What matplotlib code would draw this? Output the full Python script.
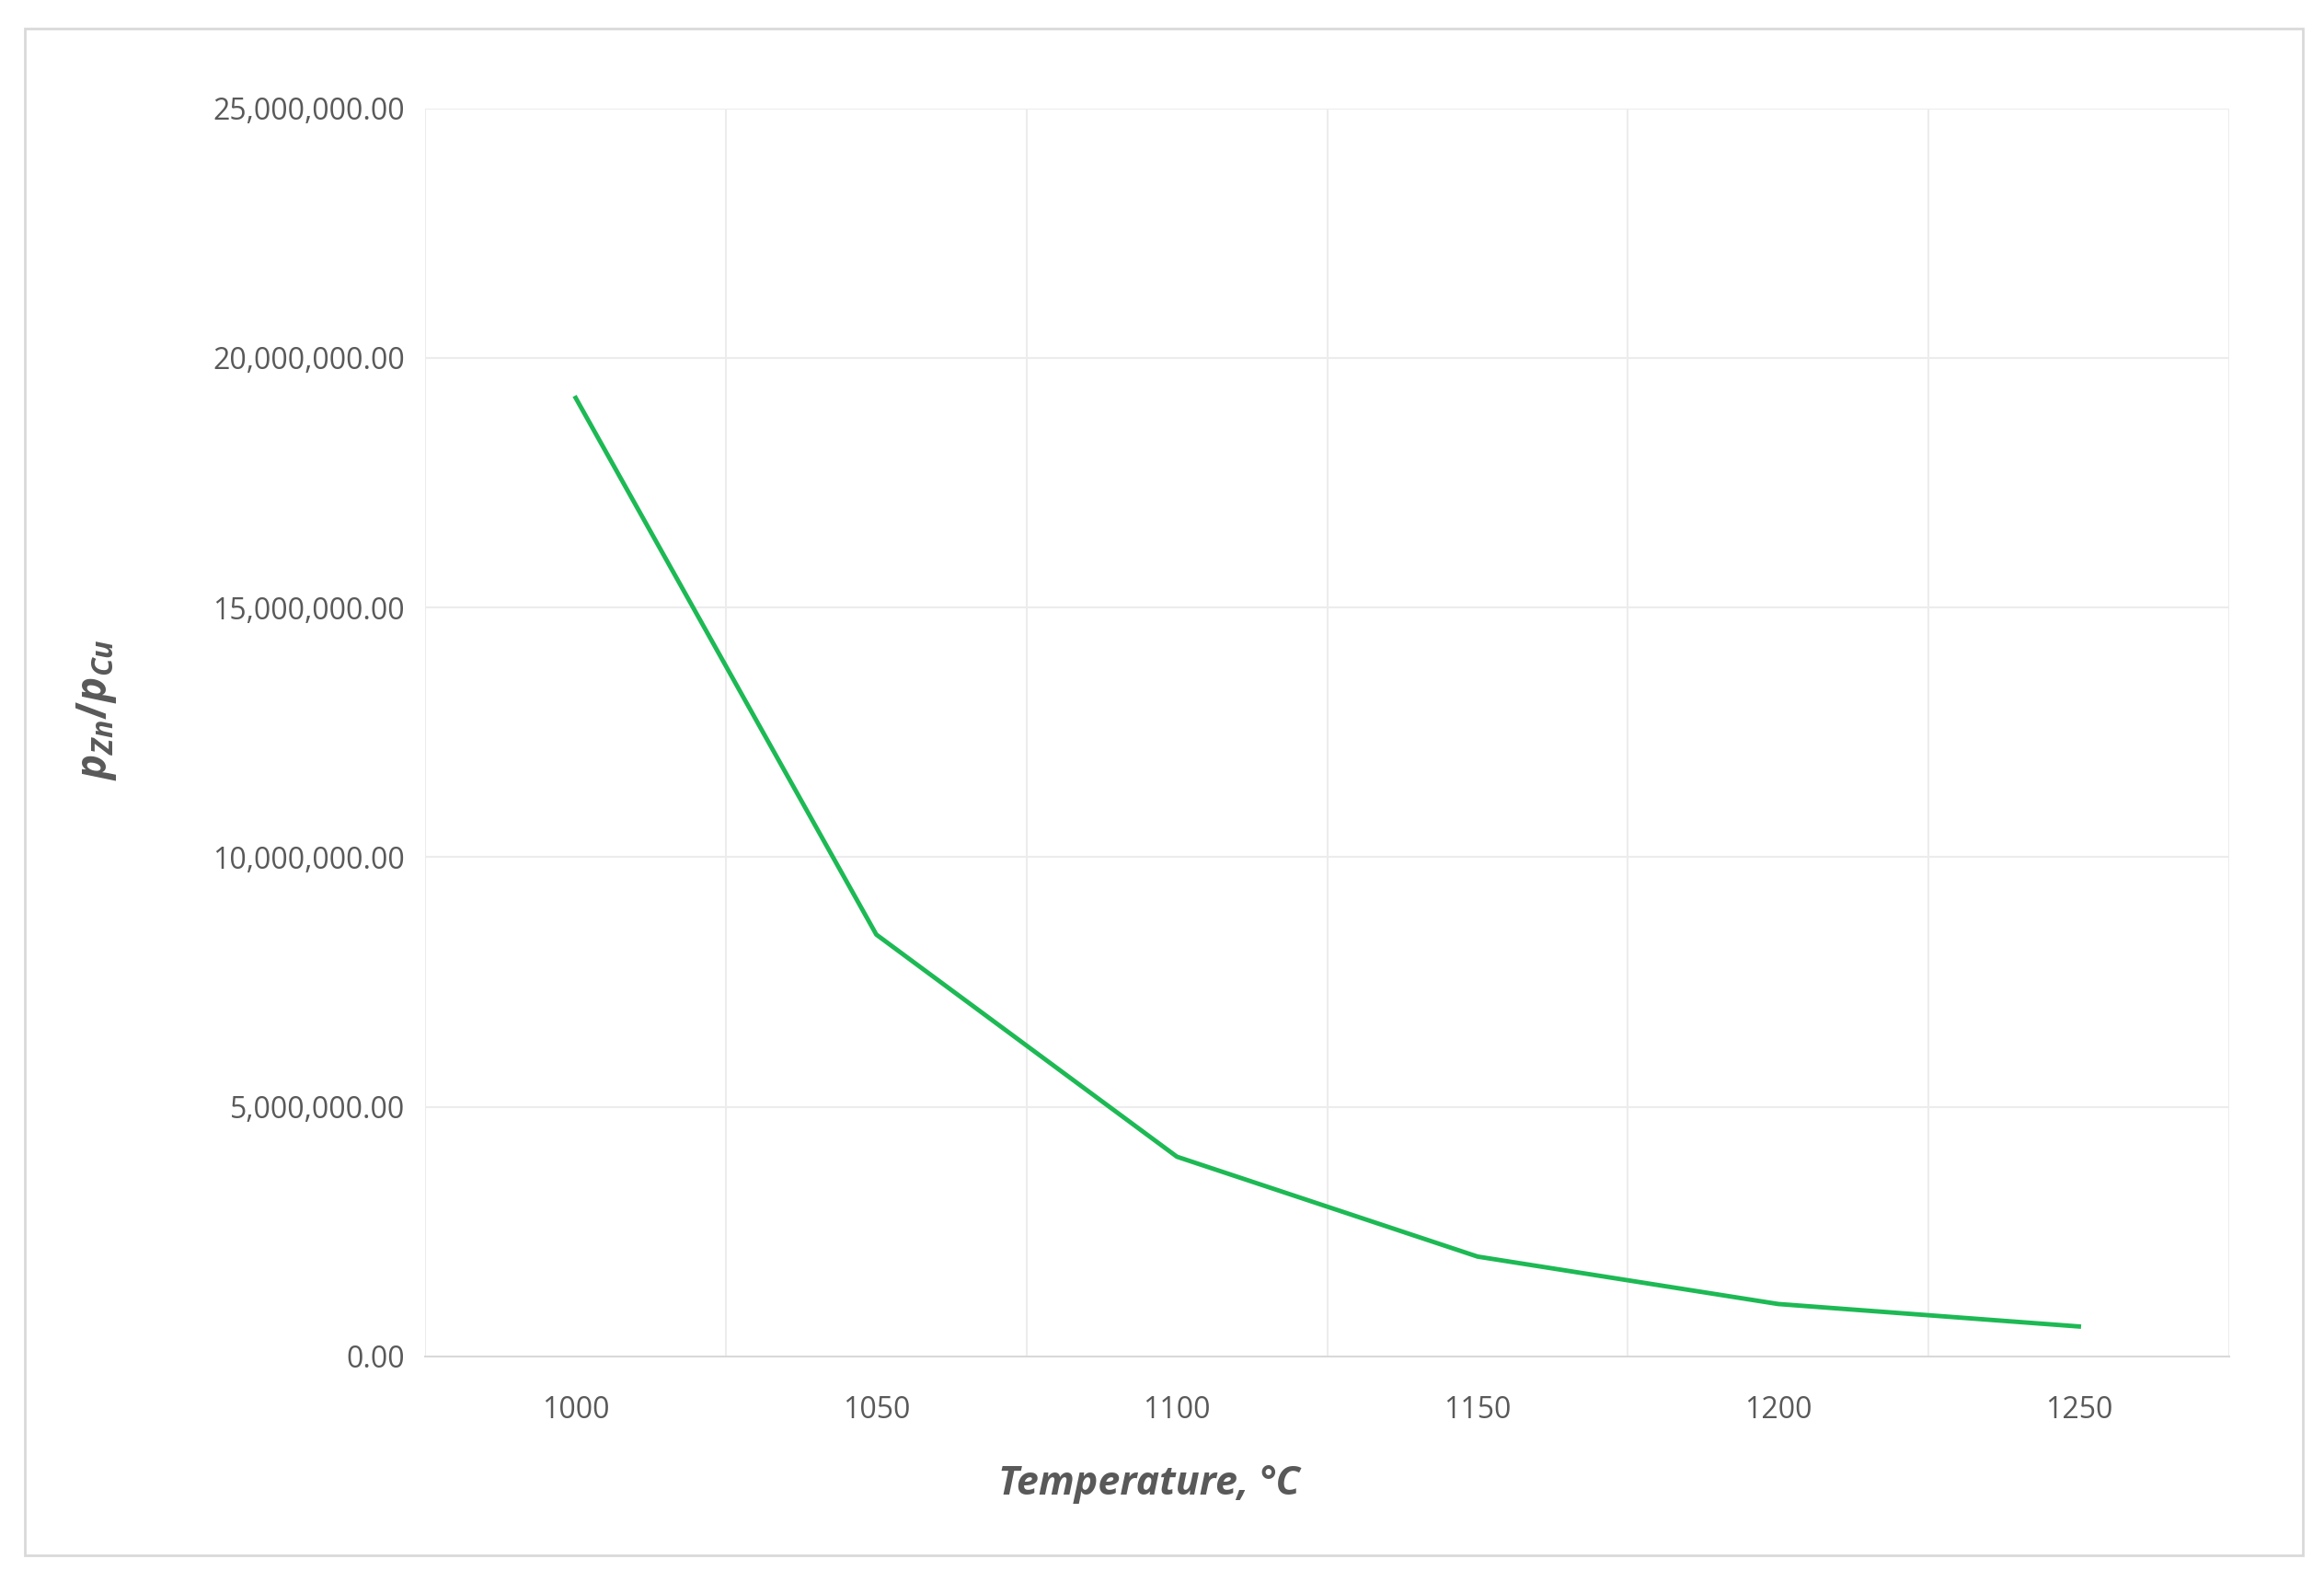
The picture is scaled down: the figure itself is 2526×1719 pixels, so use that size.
import matplotlib
matplotlib.use('Agg')
import matplotlib.pyplot as plt
from matplotlib.patches import Rectangle
from matplotlib.ticker import FuncFormatter, MultipleLocator

temperatures = [1000, 1050, 1100, 1150, 1200, 1250]
ratio = [19200000, 8450000, 4000000, 2000000, 1050000, 600000]

plt.rcParams['font.family'] = ['Open Sans', 'DejaVu Sans']
plt.rcParams['mathtext.fontset'] = 'custom'
plt.rcParams['mathtext.it'] = 'Open Sans:italic:bold'
plt.rcParams['mathtext.rm'] = 'Open Sans:bold'

fig = plt.figure(figsize=(25.26, 17.19), dpi=100)
fig.patches.append(Rectangle((17 / 1568, 1 - 1048 / 1066), (1554 - 17) / 1568, (1048 - 19) / 1066,
                             transform=fig.transFigure, fill=False, edgecolor='#d9d9d9', linewidth=2))
ax = fig.add_axes([287 / 1568, 1 - 914 / 1066, (1504 - 287) / 1568, (914 - 73) / 1066])

ax.plot(temperatures, ratio, color='#1db954', linewidth=3.5)
ax.set_xlim(975, 1275)
ax.set_ylim(0, 25000000)
ax.set_xticks(temperatures)
ax.set_xticks([975 + 50 * i for i in range(7)], minor=True)
ax.yaxis.set_major_locator(MultipleLocator(5000000))
ax.yaxis.set_major_formatter(FuncFormatter(lambda v, p: f'{v:,.2f}'))

ax.grid(False)
ax.grid(True, which='minor', axis='x', color='#ececec', linewidth=1.5)
ax.grid(True, which='major', axis='y', color='#ececec', linewidth=1.5)
ax.tick_params(which='both', length=0, labelsize=23, labelcolor='#595959')
ax.tick_params(axis='x', pad=30)
ax.tick_params(axis='y', pad=16)
for side in ['top', 'right', 'left']:
    ax.spines[side].set_visible(False)
ax.spines['bottom'].set_color('#d9d9d9')
ax.spines['bottom'].set_linewidth(1.5)

fig.text(775 / 1568, 1 - 1000 / 1066, 'Temperature, °C', fontsize=31, fontweight='bold',
         fontstyle='italic', color='#595959', ha='center', va='center')
fig.text(65 / 1568, 1 - 478 / 1066, r'$p_{Zn}/p_{Cu}$', fontsize=33, color='#595959',
         rotation=90, ha='center', va='center')

fig.savefig('out.png', dpi=100)
